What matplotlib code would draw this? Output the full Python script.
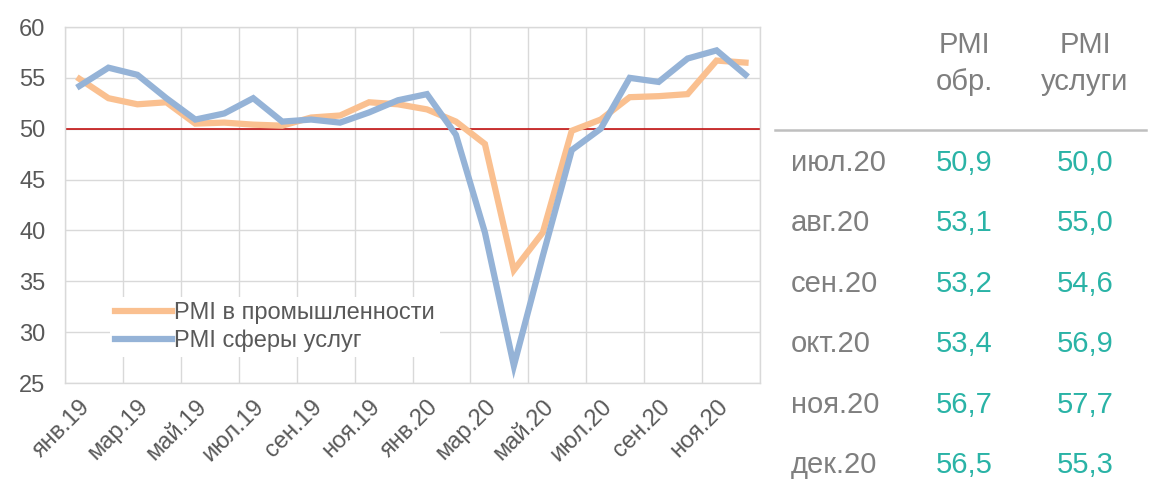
import matplotlib
matplotlib.use("Agg")
import matplotlib.pyplot as plt
from matplotlib.ticker import MultipleLocator, FixedLocator

plt.rcParams['font.family'] = ['Liberation Sans', 'DejaVu Sans']

# monthly data, Jan 2019 .. Dec 2020
months = ["янв.19", "фев.19", "мар.19", "апр.19", "май.19", "июн.19",
          "июл.19", "авг.19", "сен.19", "окт.19", "ноя.19", "дек.19",
          "янв.20", "фев.20", "мар.20", "апр.20", "май.20", "июн.20",
          "июл.20", "авг.20", "сен.20", "окт.20", "ноя.20", "дек.20"]
pmi_manuf = [54.9, 53.0, 52.4, 52.6, 50.5, 50.6, 50.4, 50.3, 51.1, 51.3, 52.6, 52.4,
             51.9, 50.7, 48.5, 36.1, 39.8, 49.8, 50.9, 53.1, 53.2, 53.4, 56.7, 56.5]
pmi_serv = [54.2, 56.0, 55.3, 53.0, 50.9, 51.5, 53.0, 50.7, 50.9, 50.6, 51.6, 52.8,
            53.4, 49.4, 39.8, 26.7, 37.5, 47.9, 50.0, 55.0, 54.6, 56.9, 57.7, 55.3]

# table on the right
table_months = ["июл.20", "авг.20", "сен.20", "окт.20", "ноя.20", "дек.20"]
table_manuf = ["50,9", "53,1", "53,2", "53,4", "56,7", "56,5"]
table_serv = ["50,0", "55,0", "54,6", "56,9", "57,7", "55,3"]

label_color = "#595959"
grid_color = "#D9D9D9"

fig = plt.figure(figsize=(11.6, 4.84), dpi=100)
ax = fig.add_axes([65 / 1160, 1 - 383 / 484, 695 / 1160, 356 / 484])

x = list(range(len(months)))
ax.plot(x, pmi_manuf, color="#FAC090", lw=4.5, solid_joinstyle="miter",
        label="PMI в промышленности", zorder=3)
ax.plot(x, pmi_serv, color="#95B3D7", lw=4.5, solid_joinstyle="miter",
        label="PMI сферы услуг", zorder=4)
ax.axhline(50, color="#C00000", lw=1.1, zorder=2)

ax.set_xlim(-0.5, len(months) - 0.5)
ax.set_ylim(25, 60)
ax.yaxis.set_major_locator(MultipleLocator(5))
ax.set_xticks(x[::2])
ax.set_xticklabels(months[::2], rotation=45, ha="right", rotation_mode="anchor")
ax.xaxis.set_minor_locator(FixedLocator([i - 0.5 for i in range(0, len(months) + 1, 2)]))
ax.grid(axis="y", which="major", color=grid_color, lw=1)
ax.grid(axis="x", which="minor", color=grid_color, lw=1)
ax.set_axisbelow(True)
ax.tick_params(axis="both", which="both", length=0, labelsize=17, colors=label_color)
ax.tick_params(axis="x", pad=9)
ax.tick_params(axis="y", pad=14)
for sp in ax.spines.values():
    sp.set_color(grid_color)
    sp.set_linewidth(1)

leg = ax.legend(loc="lower left", bbox_to_anchor=(0.048, 0.04), fontsize=17,
                frameon=True, fancybox=False, handlelength=2.4, handletextpad=0.12,
                borderpad=0.2, labelspacing=0.25, labelcolor=label_color)
leg.get_frame().set_facecolor("white")
leg.get_frame().set_edgecolor("none")
leg.get_frame().set_alpha(1)

# table
tcol = "#7F7F7F"
teal = "#2AB3A6"
fs = 21
fig.text(964 / 1160, 1 - 45 / 484, "PMI", ha="center", va="center", fontsize=fs, color=tcol)
fig.text(964 / 1160, 1 - 82 / 484, "обр.", ha="center", va="center", fontsize=fs, color=tcol)
fig.text(1085 / 1160, 1 - 45 / 484, "PMI", ha="center", va="center", fontsize=fs, color=tcol)
fig.text(1085 / 1160, 1 - 82 / 484, "услуги", ha="center", va="center", fontsize=fs, color=tcol)
fig.add_artist(plt.Line2D([775 / 1160, 1146 / 1160], [1 - 130 / 484, 1 - 130 / 484],
                          color="#BFBFBF", lw=1.8))
for i, (m, a, b) in enumerate(zip(table_months, table_manuf, table_serv)):
    yy = 1 - (163 + 60.4 * i) / 484
    fig.text(791 / 1160, yy, m, ha="left", va="center", fontsize=fs, color=tcol)
    fig.text(964 / 1160, yy, a, ha="center", va="center", fontsize=fs, color=teal)
    fig.text(1085 / 1160, yy, b, ha="center", va="center", fontsize=fs, color=teal)

fig.savefig("out.png", dpi=100)
